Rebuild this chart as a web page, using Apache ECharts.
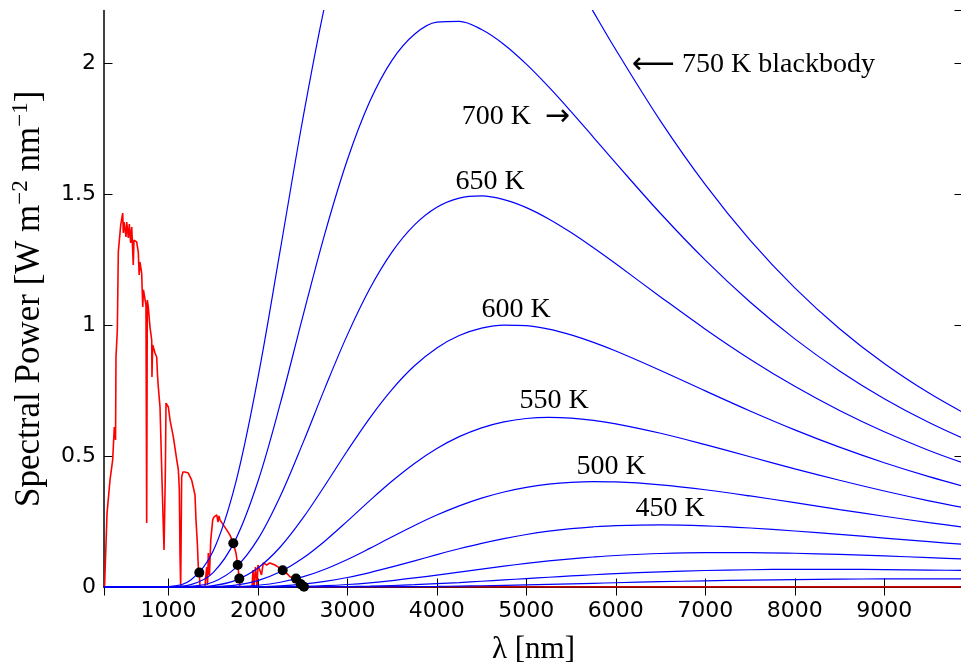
<!DOCTYPE html>
<html>
<head>
<meta charset="utf-8">
<script src="https://cdn.jsdelivr.net/npm/echarts@6/dist/echarts.min.js"></script>
<style>
  html, body { margin: 0; padding: 0; background: #fff; }
  #main { width: 961px; height: 665px; }
</style>
</head>
<body>
<div id="main"></div>
<script>
// wavelengths (nm) for the blackbody curves
var wl = [280, 1000, 1250, 1500, 1750, 2000, 2250, 2500, 2750, 3000, 3250, 3500, 3750, 4000, 4250, 4500, 4750, 5000, 5250, 5500, 5750, 6000, 6500, 7000, 7500, 8000, 8500, 9000, 9500, 10000]

// spectral power, W m^-2 nm^-1, one array per temperature
var bb750 = [0, 0.0017, 0.0265, 0.1375, 0.3956, 0.798, 1.2865, 1.7824, 2.2241, 2.5764, 2.827, 2.9792, 3.0466, 3.0443, 2.9892, 2.8956, 2.7752, 2.6389, 2.493, 2.3439, 2.1953, 2.0506, 1.7784, 1.5359, 1.324, 1.1418, 0.9859, 0.8531, 0.7402, 0.644]
var bb700 = [0, 0.0004, 0.0089, 0.0551, 0.1808, 0.4025, 0.6996, 1.0301, 1.3509, 1.6308, 1.8528, 2.0112, 2.11, 2.1561, 2.159, 2.1276, 2.0708, 1.9956, 1.9086, 1.8144, 1.7164, 1.6178, 1.4255, 1.2475, 1.0878, 0.9471, 0.8248, 0.7189, 0.6278, 0.5495]
var bb650 = [0, 0.0001, 0.0025, 0.0192, 0.0732, 0.1825, 0.3464, 0.5472, 0.76, 0.9623, 1.1382, 1.279, 1.3821, 1.4495, 1.4845, 1.4927, 1.4785, 1.4481, 1.4048, 1.3528, 1.2947, 1.2334, 1.1072, 0.9841, 0.8696, 0.7659, 0.6736, 0.5923, 0.5212, 0.4592]
var bb600 = [0, 0, 0.0006, 0.0056, 0.0255, 0.0726, 0.1526, 0.2616, 0.3885, 0.5202, 0.6449, 0.7545, 0.8443, 0.9126, 0.96, 0.9882, 0.9999, 0.9976, 0.9843, 0.9623, 0.9338, 0.9008, 0.8266, 0.7485, 0.672, 0.5999, 0.5338, 0.4743, 0.4212, 0.3741]
var bb550 = [0, 0, 0.0001, 0.0013, 0.0073, 0.0244, 0.0579, 0.1094, 0.1758, 0.2515, 0.3297, 0.4045, 0.4717, 0.5286, 0.5739, 0.6076, 0.6302, 0.6432, 0.6475, 0.6447, 0.6361, 0.6228, 0.5868, 0.5433, 0.4971, 0.4511, 0.4073, 0.3664, 0.329, 0.2951]
var bb500 = [0, 0, 0, 0.0002, 0.0017, 0.0066, 0.0181, 0.0384, 0.0679, 0.1051, 0.1474, 0.1915, 0.2347, 0.2747, 0.3098, 0.3393, 0.3627, 0.3803, 0.3923, 0.3994, 0.402, 0.4009, 0.39, 0.3711, 0.3475, 0.3218, 0.2956, 0.27, 0.2458, 0.2231]
var bb450 = [0, 0, 0, 0, 0.0003, 0.0013, 0.0044, 0.0107, 0.0212, 0.0362, 0.0551, 0.0768, 0.1, 0.1234, 0.1459, 0.1666, 0.1848, 0.2003, 0.213, 0.2228, 0.2298, 0.2345, 0.2374, 0.2336, 0.2252, 0.2138, 0.2007, 0.1869, 0.173, 0.1595]
var bb400 = [0, 0, 0, 0, 0, 0.0002, 0.0007, 0.0022, 0.005, 0.0096, 0.0161, 0.0245, 0.0345, 0.0454, 0.057, 0.0685, 0.0796, 0.09, 0.0994, 0.1076, 0.1145, 0.1202, 0.1279, 0.1314, 0.1314, 0.1288, 0.1243, 0.1186, 0.1122, 0.1054]
var bb350 = [0, 0, 0, 0, 0, 0, 0.0001, 0.0003, 0.0008, 0.0017, 0.0033, 0.0057, 0.0088, 0.0126, 0.017, 0.0219, 0.027, 0.0322, 0.0373, 0.0422, 0.0468, 0.051, 0.0579, 0.0629, 0.0659, 0.0674, 0.0675, 0.0665, 0.0647, 0.0624]
var bb300 = [0, 0, 0, 0, 0, 0, 0, 0, 0.0001, 0.0002, 0.0004, 0.0008, 0.0014, 0.0023, 0.0034, 0.0048, 0.0064, 0.0082, 0.0101, 0.0121, 0.0142, 0.0163, 0.0202, 0.0236, 0.0264, 0.0285, 0.03, 0.0309, 0.0313, 0.0312]
var bbCurves = [bb750, bb700, bb650, bb600, bb550, bb500, bb450, bb400, bb350, bb300]

// solar spectrum (red)
var sunX = [286, 314, 347, 377, 395, 409, 414, 429, 440, 459, 467, 489, 496, 504, 526, 534, 552, 563, 578, 590,
  607, 615, 626, 645, 663, 673, 682, 701, 713, 721, 738, 749, 757, 764, 775, 794, 813, 816, 824, 831,
  850, 869, 878, 887, 906, 914, 925, 943, 951, 966, 973, 999, 1018, 1055, 1093, 1111, 1122, 1129, 1137, 1148,
  1162, 1185, 1222, 1260, 1297, 1308, 1323, 1334, 1345, 1353, 1409, 1414, 1428, 1437, 1446, 1459, 1473, 1495, 1509, 1540,
  1554, 1565, 1576, 1613, 1651, 1688, 1725, 1755, 1774, 1792, 1800, 1934, 1945, 1956, 1973, 1990, 2001, 2023, 2040, 2060,
  2098, 2135, 2191, 2228, 2277, 2322, 2359, 2426, 2478, 2515, 2526, 9880]
var sunY = [0, 0.282, 0.408, 0.485, 0.611, 0.561, 0.878, 0.981, 1.279, 1.279, 1.382, 1.427, 1.351, 1.393, 1.336, 1.393, 1.332, 1.385, 1.313, 1.374,
  1.229, 1.324, 1.317, 1.317, 1.279, 1.191, 1.24, 1.198, 1.069, 1.134, 1.141, 1.076, 0.244, 1.095, 1.069, 0.992, 0.943, 0.802, 0.924, 0.916,
  0.893, 0.878, 0.809, 0.763, 0.687, 0.588, 0.447, 0.229, 0.141, 0.447, 0.702, 0.687, 0.637, 0.573, 0.485, 0.447, 0.37, 0.13, 0, 0.42,
  0.439, 0.439, 0.435, 0.408, 0.351, 0.256, 0.168, 0.076, 0.055, 0, 0, 0.027, 0.076, 0.008, 0.13, 0.046, 0.179, 0.256, 0.267, 0.275,
  0.248, 0.271, 0.256, 0.237, 0.218, 0.198, 0.167, 0.13, 0.084, 0.032, 0, 0, 0.065, 0, 0.076, 0, 0.084, 0.084, 0.046, 0.092,
  0.084, 0.092, 0.084, 0.076, 0.064, 0.052, 0.039, 0.031, 0.011, 0.001, 0, 0]

// crossing points (black dots)
var dotX = [1345, 1725, 1774, 1792, 2277, 2426, 2478, 2515]
var dotY = [0.055, 0.167, 0.084, 0.032, 0.064, 0.032, 0.011, 0.001]

// curve labels
var labelTexts = ['{ar|\u27F5} 750 K blackbody', '700 K  {ar|\u2192}', '650 K', '600 K', '550 K', '500 K', '450 K']
var labelX = [6181, 5488, 4594, 4885, 5309, 5946, 6606]
var labelY = [1.992, 1.794, 1.546, 1.057, 0.71, 0.458, 0.298]
var labelAlign = ['left', 'right', 'center', 'center', 'center', 'center', 'center']

var myChart = echarts.init(document.getElementById('main'))

var serif = 'Liberation Serif'
var tickStyle = { inside: true, length: 8.5, lineStyle: { color: '#000', width: 1 } }
var lineAxis = { lineStyle: { color: '#000', width: 1.5 } }
var plain = function (v) { return String(v) }

let series = []
series.push({
    name: 'sun',
    type: 'line',
    data: sunX.map(function (x, i) { return [x, sunY[i]] }),
    showSymbol: false,
    lineStyle: { color: '#ff0000', width: 1.6 },
    z: 2
})
bbCurves.forEach(function (arr) {
    series.push({
        type: 'line',
        data: wl.map(function (x, i) { return [x, arr[i]] }),
        showSymbol: false,
        smooth: 0.35,
        clip: true,
        lineStyle: { color: '#0000ff', width: 1.2 },
        z: 3
    })
})
series.push({
    type: 'scatter',
    data: dotX.map(function (x, i) { return [x, dotY[i]] }),
    symbolSize: 10,
    itemStyle: { color: '#000', opacity: 1 },
    z: 5
})
series.push({
    type: 'scatter',
    silent: true,
    symbolSize: 0,
    itemStyle: { opacity: 1 },
    data: labelX.map(function (x, i) {
        return { value: [x, labelY[i]], label: { align: labelAlign[i] } }
    }),
    label: {
        show: true,
        position: 'inside',
        formatter: function (p) { return labelTexts[p.dataIndex] },
        fontFamily: serif,
        fontSize: 28,
        color: '#000',
        opacity: 1,
        textBorderWidth: 0,
        rich: {
            ar: { fontFamily: 'DejaVu Sans', fontSize: 30, color: '#000' }
        }
    },
    z: 6
})

myChart.setOption({
    animation: false,
    backgroundColor: '#fff',
    grid: { left: 104, right: -2, top: 10.6, bottom: 78, containLabel: false, outerBoundsMode: 'none' },
    xAxis: [{
        type: 'value',
        min: 280,
        max: 9880,
        splitNumber: 10,
        minInterval: 1000,
        maxInterval: 1000,
        position: 'bottom',
        axisLine: lineAxis,
        axisTick: tickStyle,
        splitLine: { show: false },
        axisLabel: { color: '#000', fontFamily: 'DejaVu Sans', fontSize: 22, margin: 13, showMinLabel: false, showMaxLabel: false, formatter: plain },
        name: '\u03BB [nm]',
        nameLocation: 'middle',
        nameGap: 47,
        nameTextStyle: { fontFamily: serif, fontSize: 31, color: '#000' }
    }, {
        type: 'value',
        min: 280,
        max: 9880,
        splitNumber: 10,
        minInterval: 1000,
        maxInterval: 1000,
        position: 'top',
        axisLine: lineAxis,
        axisTick: tickStyle,
        splitLine: { show: false },
        axisLabel: { show: false }
    }],
    yAxis: [{
        type: 'value',
        min: 0,
        max: 2.2,
        interval: 0.5,
        position: 'left',
        axisLine: lineAxis,
        axisTick: tickStyle,
        splitLine: { show: false },
        axisLabel: { color: '#000', fontFamily: 'DejaVu Sans', fontSize: 22, margin: 8, showMaxLabel: false, formatter: plain },
        name: '{t|Spectral Power [W m}{s|\u22122}{t| nm}{s|\u22121}{t|]}',
        nameLocation: 'middle',
        nameGap: 53,
        nameTextStyle: {
            color: '#000',
            rich: {
                t: { fontFamily: serif, fontSize: 35, lineHeight: 42, color: '#000' },
                s: { fontFamily: serif, fontSize: 23, lineHeight: 24, verticalAlign: 'top', color: '#000' }
            }
        }
    }, {
        type: 'value',
        min: 0,
        max: 2.2,
        interval: 0.5,
        position: 'right',
        axisLine: lineAxis,
        axisTick: tickStyle,
        splitLine: { show: false },
        axisLabel: { show: false }
    }],
    series: series
})
</script>
</body>
</html>
